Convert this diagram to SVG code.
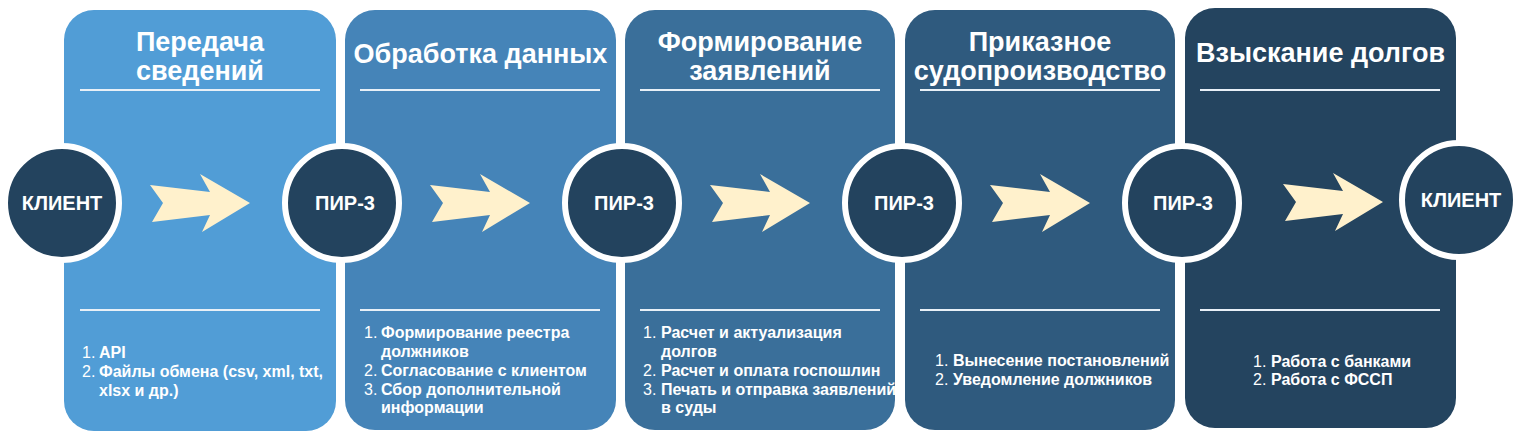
<svg xmlns="http://www.w3.org/2000/svg" xmlns:xlink="http://www.w3.org/1999/xlink" width="1521" height="440" viewBox="0 0 1521 440">
<style>
.panel{stroke:none}
.sep{stroke:#e8f0f7;stroke-width:2}
.title{font-family:"Liberation Sans",Arial,sans-serif;font-weight:bold;font-size:27px;fill:#ffffff;text-anchor:middle}
.item{font-family:"Liberation Sans",Arial,sans-serif;font-weight:bold;font-size:16px;fill:#ffffff}
.num{font-weight:normal}
.circ{fill:#23435e;stroke:#ffffff;stroke-width:6}
.ctext{font-family:"Liberation Sans",Arial,sans-serif;font-weight:bold;font-size:20px;fill:#ffffff;text-anchor:middle}
.arrow{fill:#fff1cc}
</style>
<defs>
<polygon id="arr" points="-100,-18 -87,0 -98,19 -40,12 -48,29 0,0 -50,-29 -40,-11"/>
</defs>
<rect width="1521" height="440" fill="#ffffff"/>

<g id="stage1">
<rect class="panel" x="64" y="10" width="272" height="421" rx="30" fill="#519dd6"/>
<text class="title" x="200" y="51">Передача</text>
<text class="title" x="200" y="80">сведений</text>
<line class="sep" x1="80" y1="90" x2="320" y2="90"/>
<line class="sep" x1="80" y1="310" x2="320" y2="310"/>
<text class="item"><tspan class="num" x="82" y="358">1.</tspan><tspan x="99" y="358">API</tspan></text>
<text class="item"><tspan class="num" x="82" y="377">2.</tspan><tspan x="99" y="377">Файлы обмена (csv, xml, txt,</tspan><tspan x="99" y="396">xlsx и др.)</tspan></text>
</g>

<g id="stage2">
<rect class="panel" x="345" y="10" width="271" height="420" rx="30" fill="#4584b8"/>
<text class="title" x="480.5" y="63">Обработка данных</text>
<line class="sep" x1="360" y1="90" x2="600" y2="90"/>
<line class="sep" x1="360" y1="310" x2="600" y2="310"/>
<text class="item"><tspan class="num" x="364" y="338">1.</tspan><tspan x="381" y="338">Формирование реестра</tspan><tspan x="381" y="357">должников</tspan></text>
<text class="item"><tspan class="num" x="364" y="376">2.</tspan><tspan x="381" y="376">Согласование с клиентом</tspan></text>
<text class="item"><tspan class="num" x="364" y="395">3.</tspan><tspan x="381" y="395">Сбор дополнительной</tspan><tspan x="381" y="413">информации</tspan></text>
</g>

<g id="stage3">
<rect class="panel" x="625" y="10" width="270" height="420" rx="30" fill="#3a6f9a"/>
<text class="title" x="760" y="51">Формирование</text>
<text class="title" x="760" y="80">заявлений</text>
<line class="sep" x1="640" y1="90" x2="880" y2="90"/>
<line class="sep" x1="640" y1="310" x2="880" y2="310"/>
<text class="item"><tspan class="num" x="643" y="338">1.</tspan><tspan x="661" y="338">Расчет и актуализация</tspan><tspan x="661" y="357">долгов</tspan></text>
<text class="item"><tspan class="num" x="643" y="376">2.</tspan><tspan x="661" y="376">Расчет и оплата госпошлин</tspan></text>
<text class="item"><tspan class="num" x="643" y="395">3.</tspan><tspan x="661" y="395">Печать и отправка заявлений</tspan><tspan x="661" y="413">в суды</tspan></text>
</g>

<g id="stage4">
<rect class="panel" x="905" y="10" width="270" height="420" rx="30" fill="#2f5a7e"/>
<text class="title" x="1040" y="51">Приказное</text>
<text class="title" x="1040" y="80">судопроизводство</text>
<line class="sep" x1="920" y1="90" x2="1160" y2="90"/>
<line class="sep" x1="920" y1="310" x2="1160" y2="310"/>
<text class="item"><tspan class="num" x="935" y="366">1.</tspan><tspan x="953" y="366">Вынесение постановлений</tspan></text>
<text class="item"><tspan class="num" x="935" y="385">2.</tspan><tspan x="953" y="385">Уведомление должников</tspan></text>
</g>

<g id="stage5">
<rect class="panel" x="1185" y="8" width="271" height="420" rx="30" fill="#24445f"/>
<text class="title" x="1320.5" y="62">Взыскание долгов</text>
<line class="sep" x1="1200" y1="90" x2="1440" y2="90"/>
<line class="sep" x1="1200" y1="310" x2="1440" y2="310"/>
<text class="item"><tspan class="num" x="1253" y="367">1.</tspan><tspan x="1271" y="367">Работа с банками</tspan></text>
<text class="item"><tspan class="num" x="1253" y="385">2.</tspan><tspan x="1271" y="385">Работа с ФССП</tspan></text>
</g>

<g id="connectors">
<use xlink:href="#arr" class="arrow" transform="translate(250,203)"/>
<use xlink:href="#arr" class="arrow" transform="translate(530,203)"/>
<use xlink:href="#arr" class="arrow" transform="translate(810,203)"/>
<use xlink:href="#arr" class="arrow" transform="translate(1090,203)"/>
<use xlink:href="#arr" class="arrow" transform="translate(1383,202)"/>
</g>

<g id="client-start">
<circle class="circ" cx="62" cy="203" r="57"/>
<text class="ctext" x="62" y="210">КЛИЕНТ</text>
</g>
<g id="pir3-1">
<circle class="circ" cx="342" cy="203" r="57"/>
<text class="ctext" x="345" y="210">ПИР-3</text>
</g>
<g id="pir3-2">
<circle class="circ" cx="622" cy="203" r="57"/>
<text class="ctext" x="624" y="210">ПИР-3</text>
</g>
<g id="pir3-3">
<circle class="circ" cx="902" cy="203" r="57"/>
<text class="ctext" x="904" y="210">ПИР-3</text>
</g>
<g id="pir3-4">
<circle class="circ" cx="1182" cy="203" r="57"/>
<text class="ctext" x="1183" y="210">ПИР-3</text>
</g>
<g id="client-end">
<circle class="circ" cx="1459" cy="200" r="57"/>
<text class="ctext" x="1461" y="207">КЛИЕНТ</text>
</g>
</svg>
